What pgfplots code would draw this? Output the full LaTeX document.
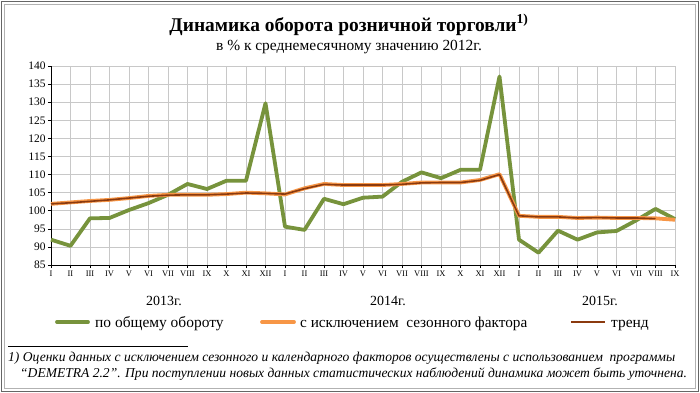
\documentclass[border=0pt]{standalone}
\usepackage{pgfplots}
\pgfplotsset{compat=1.18}
\usepackage{fontspec}
\setmainfont{Liberation Serif}
\definecolor{cgreen}{HTML}{77933C}
\definecolor{corange}{HTML}{F79646}
\definecolor{ctrend}{HTML}{8B3A0F}
\definecolor{cgrid}{HTML}{C8C8C8}
\pgfplotstableread{
x total sa
0 92.0 101.9
1 90.3 102.3
2 97.9 102.7
3 98.0 103.0
4 100.2 103.5
5 102.1 104.1
6 104.4 104.4
7 107.4 104.4
8 106.0 104.4
9 108.3 104.6
10 108.3 105.0
11 129.7 104.8
12 95.6 104.5
13 94.7 106.2
14 103.3 107.4
15 101.8 107.1
16 103.6 107.1
17 103.9 107.1
18 108.0 107.4
19 110.6 107.8
20 109.0 107.8
21 111.3 107.8
22 111.3 108.5
23 137.1 110.1
24 92.0 98.6
25 88.4 98.3
26 94.5 98.3
27 92.0 98.0
28 94.0 98.1
29 94.4 98.0
30 97.3 98.0
31 100.5 97.9
32 97.7 97.5
}\datatable
\pgfplotstableread{
x trend
0 101.9
1 102.2
2 102.6
3 103.0
4 103.5
5 104.0
6 104.3
7 104.4
8 104.4
9 104.6
10 104.9
11 104.8
12 104.6
13 106.1
14 107.3
15 107.1
16 107.1
17 107.1
18 107.3
19 107.7
20 107.8
21 107.8
22 108.4
23 110.0
24 98.6
25 98.3
26 98.3
27 98.0
28 98.1
29 98.0
30 98.0
31 97.8
}\trendtable
\begin{document}
\begin{tikzpicture}
\path[use as bounding box] (0bp,0bp) rectangle (700bp,-393bp);
\draw[gray!80!black, line width=1bp] (1.5bp,-1.5bp) rectangle (698.5bp,-391.5bp);
\draw[gray!60, line width=0.8bp] (4.5bp,-4.5bp) rectangle (695.5bp,-388.5bp);
\node[font=\bfseries\fontsize{19.5}{22}\selectfont, anchor=base] at (349bp,-31bp) {Динамика оборота розничной торговли\textsuperscript{1)}};
\node[font=\fontsize{15.5}{17}\selectfont, anchor=base] at (349bp,-50bp) {в \% к среднемесячному значению 2012г.};
\begin{axis}[
  at={(51bp,-265bp)}, anchor=south west,
  scale only axis, width=624bp, height=199bp,
  xmin=0, xmax=32, ymin=85, ymax=140,
  ytick={85,90,...,140},
  xtick={0,...,32},
  xticklabels={I,II,III,IV,V,VI,VII,VIII,IX,X,XI,XII,I,II,III,IV,V,VI,VII,VIII,IX,X,XI,XII,I,II,III,IV,V,VI,VII,VIII,IX},
  grid=major,
  major grid style={cgrid, line width=0.6bp},
  axis line style={draw=none},
  tick style={black, line width=0.6bp},
  major tick length=3bp,
  tick align=outside,
  xtick pos=bottom, ytick pos=left,
  x tick label style={font=\fontsize{8.5}{9}\selectfont, yshift=1bp},
  y tick label style={font=\fontsize{11.5}{12}\selectfont, xshift=1bp},
  /pgf/number format/assume math mode=true,
  clip=false,
]
\draw[cgrid, line width=0.6bp] (axis cs:0,140) -- (axis cs:32,140) -- (axis cs:32,85);
\draw[black, line width=0.8bp] (axis cs:0,140) -- (axis cs:0,85) -- (axis cs:32,85);
\addplot[cgreen, line width=3.8bp, line join=round] table[x=x,y=total] {\datatable};
\addplot[corange, line width=3.8bp, line join=round] table[x=x,y=sa] {\datatable};
\addplot[ctrend, line width=1.6bp, line join=round] table[x=x,y=trend] {\trendtable};
\end{axis}
\node[font=\fontsize{14}{16}\selectfont, anchor=base] at (164bp,-305bp) {2013г.};
\node[font=\fontsize{14}{16}\selectfont, anchor=base] at (388bp,-305bp) {2014г.};
\node[font=\fontsize{14}{16}\selectfont, anchor=base] at (600bp,-305bp) {2015г.};
\draw[cgreen, line width=3.8bp, line cap=round] (57bp,-322bp) -- (88bp,-322bp);
\node[font=\fontsize{15.5}{17}\selectfont, anchor=base west, inner sep=0] at (95bp,-327bp) {по общему обороту};
\draw[corange, line width=3.8bp, line cap=round] (262bp,-322bp) -- (294bp,-322bp);
\node[font=\fontsize{15.3}{17}\selectfont, anchor=base west, inner sep=0] at (300bp,-327bp) {с исключением\ \ сезонного фактора};
\draw[ctrend, line width=2bp] (571bp,-322bp) -- (605bp,-322bp);
\node[font=\fontsize{15.5}{17}\selectfont, anchor=base west, inner sep=0] at (611bp,-327bp) {тренд};
\draw[black, line width=0.5bp] (8bp,-346bp) -- (188bp,-346bp);
\node[font=\itshape\fontsize{13.6}{15}\selectfont, anchor=base west, inner sep=0] at (8bp,-361bp) {1) Оценки данных с исключением сезонного и календарного факторов осуществлены с использованием\ \ программы};
\node[font=\itshape\fontsize{13.6}{15}\selectfont, anchor=base west, inner sep=0] at (20bp,-377bp) {“DEMETRA 2.2”. При поступлении новых данных статистических наблюдений динамика может быть уточнена.};
\end{tikzpicture}
\end{document}
